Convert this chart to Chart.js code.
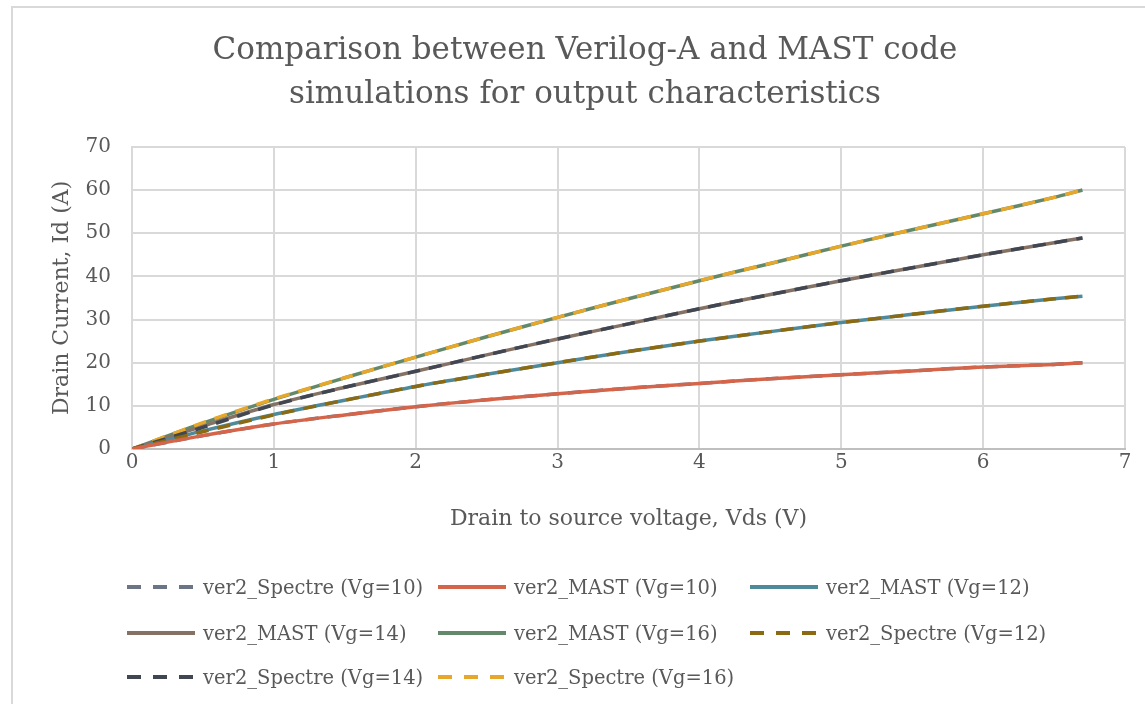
<!DOCTYPE html>
<html>
<head>
<meta charset="utf-8">
<script src="https://cdn.jsdelivr.net/npm/chart.js@4.4.1/dist/chart.umd.min.js"></script>
<style>
    html, body { margin: 0; padding: 0; background: #fff; overflow: hidden; }
    #wrap { position: relative; width: 1145px; height: 704px; }
    #frame { position: absolute; left: 11px; top: 6px; width: 1300px; height: 900px;
             border-left: 2px solid #d9d9d9; border-top: 2px solid #d9d9d9; }
    #legend { position: absolute; left: 0; top: 0; width: 1145px; height: 704px; pointer-events: none; }
    .item { position: absolute; display: flex; align-items: center; height: 30px;
            font-family: "DejaVu Serif", serif; font-size: 19.5px; color: #595959; white-space: nowrap; }
    .item svg { margin-right: 8px; }
</style>
</head>
<body>
<div id="wrap">
    <div id="frame"></div>
    <canvas id="outputChart" width="1145" height="704"></canvas>
    <div id="legend"></div>
</div>
<script>
// drain-source voltage (V)
var vds = [0, 0.5, 1, 1.5, 2, 2.5, 3, 3.5, 4, 4.5, 5, 5.5, 6, 6.5, 6.7];

// drain current (A)
var spectre10 = [0, 3.1, 5.8, 7.9, 9.8, 11.4, 12.8, 14.1, 15.2, 16.3, 17.2, 18.1, 19.0, 19.6, 20.0];
var mast10    = [0, 3.1, 5.8, 7.9, 9.8, 11.4, 12.8, 14.1, 15.2, 16.3, 17.2, 18.1, 19.0, 19.6, 20.0];
var mast12    = [0, 4.2, 8.0, 11.3, 14.5, 17.3, 20.0, 22.6, 25.0, 27.2, 29.3, 31.2, 33.1, 34.8, 35.4];
var mast14    = [0, 5.3, 10.3, 14.3, 18.0, 21.8, 25.5, 29.0, 32.5, 35.8, 39.0, 42.0, 45.0, 47.8, 48.9];
var mast16    = [0, 6.0, 11.5, 16.5, 21.3, 26.0, 30.5, 34.8, 39.0, 43.0, 47.0, 50.8, 54.5, 58.3, 60.0];
var spectre12 = [0, 4.0, 7.9, 11.3, 14.5, 17.3, 20.0, 22.6, 25.0, 27.2, 29.3, 31.2, 33.1, 34.8, 35.4];
var spectre14 = [0, 5.0, 10.2, 14.3, 18.0, 21.8, 25.5, 29.0, 32.5, 35.8, 39.0, 42.0, 45.0, 47.8, 48.9];
var spectre16 = [0, 6.1, 11.6, 16.5, 21.3, 26.0, 30.5, 34.8, 39.0, 43.0, 47.0, 50.8, 54.5, 58.3, 60.0];

var seriesNames = [
    "ver2_Spectre (Vg=10)", "ver2_MAST (Vg=10)", "ver2_MAST (Vg=12)",
    "ver2_MAST (Vg=14)", "ver2_MAST (Vg=16)", "ver2_Spectre (Vg=12)",
    "ver2_Spectre (Vg=14)", "ver2_Spectre (Vg=16)"
];
var seriesValues = [spectre10, mast10, mast12, mast14, mast16, spectre12, spectre14, spectre16];
var seriesColors = ["#6b7585", "#d4644a", "#4f8a9a", "#857265", "#63896a", "#8b6a12", "#404652", "#e6a72a"];
var seriesDashed = [true, false, false, false, false, true, true, true];
var seriesOrder  = [3, 1, 2, 2, 2, 1, 1, 1];

function toPoints(ys) {
    return ys.map(function (y, i) { return { x: vds[i], y: y }; });
}

var datasets = seriesNames.map(function (name, i) {
    return {
        label: name,
        data: toPoints(seriesValues[i]),
        borderColor: seriesColors[i],
        backgroundColor: seriesColors[i],
        borderWidth: 3.5,
        borderDash: seriesDashed[i] ? [13, 9] : [],
        pointRadius: 0,
        tension: 0.3,
        order: seriesOrder[i],
        fill: false
    };
});

var textColor = "#595959";
var serif = "DejaVu Serif";

var ctx = document.getElementById("outputChart").getContext("2d");
new Chart(ctx, {
    type: "line",
    data: { datasets: datasets },
    options: {
        responsive: false,
        animation: false,
        layout: { padding: { left: 45, right: 20, top: 0, bottom: 164 } },
        scales: {
            x: {
                type: "linear",
                min: 0,
                max: 7,
                ticks: { stepSize: 1, color: textColor, padding: 2, font: { family: serif, size: 20 } },
                grid: { color: "#d9d9d9", lineWidth: 2, drawTicks: false },
                border: { color: "#bfbfbf", width: 2 },
                title: {
                    display: true,
                    text: "Drain to source voltage, Vds (V)",
                    color: textColor,
                    font: { family: serif, size: 22 },
                    padding: { top: 0, bottom: 8 }
                },
                afterFit: function (scale) { scale.height = 91; }
            },
            y: {
                min: 0,
                max: 70,
                ticks: { stepSize: 10, color: textColor, padding: 21, font: { family: serif, size: 20 } },
                grid: { color: "#d9d9d9", lineWidth: 2, drawTicks: false },
                border: { color: "#d9d9d9", width: 2 },
                title: {
                    display: true,
                    text: "Drain Current, Id (A)",
                    color: textColor,
                    font: { family: serif, size: 22 },
                    padding: { top: 4, bottom: 0 }
                },
                afterFit: function (scale) { scale.width = 87; }
            }
        },
        plugins: {
            legend: { display: false },
            tooltip: { enabled: false },
            title: {
                display: true,
                text: ["Comparison between Verilog-A and MAST code", "simulations for output characteristics"],
                color: textColor,
                font: { family: serif, size: 31, weight: "normal", lineHeight: 1.45 },
                padding: { top: 28, bottom: 29 }
            }
        }
    }
});

// legend laid out in fixed columns like the original
var legendBox = document.getElementById("legend");
var colX = [127, 438, 750];
var rowY = [587, 633, 677];
seriesNames.forEach(function (name, i) {
    var item = document.createElement("div");
    item.className = "item";
    item.style.left = colX[i % 3] + "px";
    item.style.top = (rowY[Math.floor(i / 3)] - 15) + "px";
    var dash = seriesDashed[i] ? ' stroke-dasharray="14 12"' : "";
    item.innerHTML = '<svg width="68" height="8"><line x1="0" y1="4" x2="68" y2="4" stroke="' +
        seriesColors[i] + '" stroke-width="4"' + dash + '/></svg>' + name;
    legendBox.appendChild(item);
});
</script>
</body>
</html>
